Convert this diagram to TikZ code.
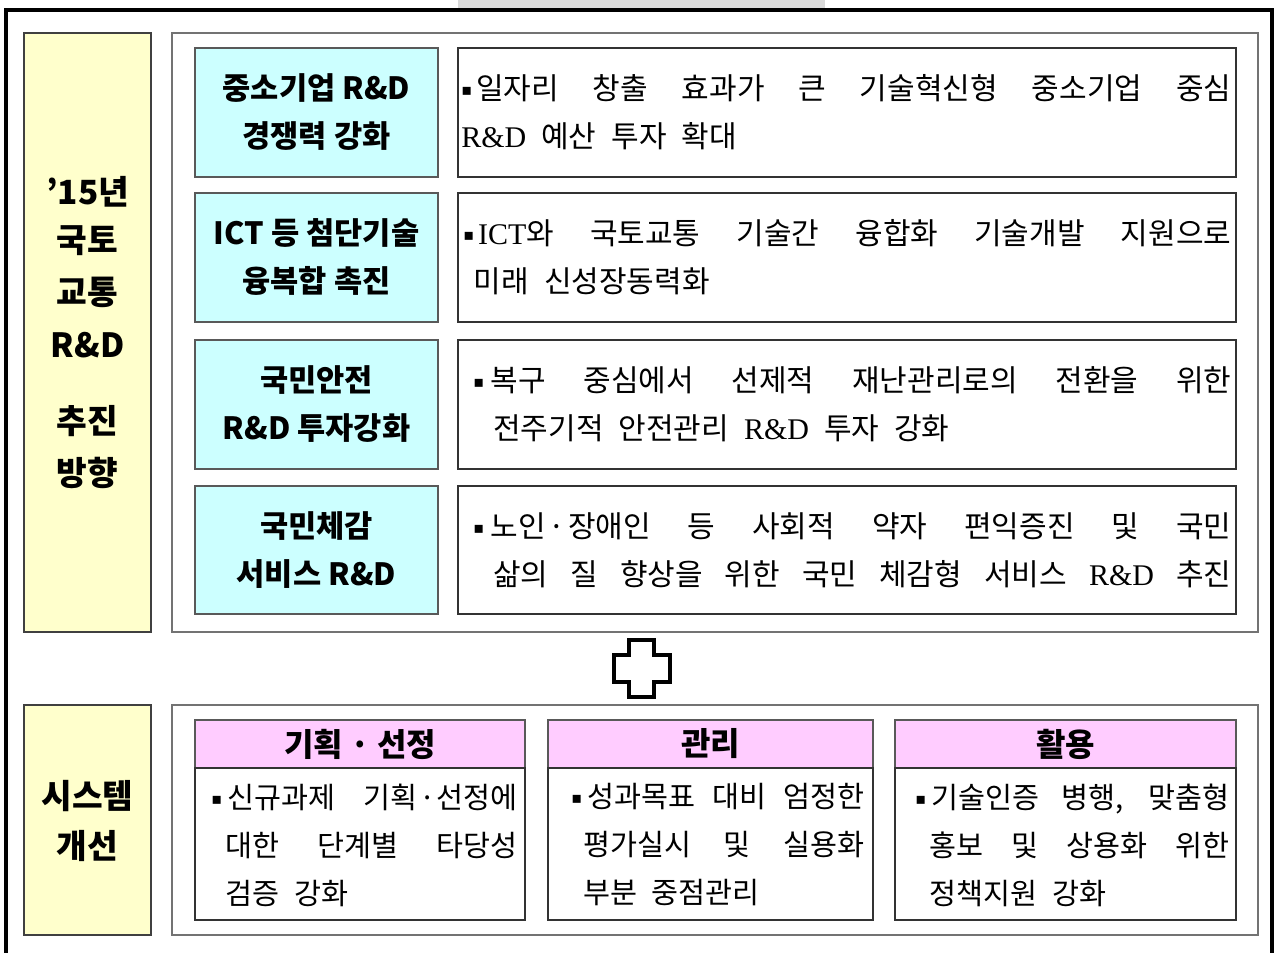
\documentclass[tikz,border=0pt]{standalone}
\usepackage{fontspec}
\newfontfamily\kr{Noto Sans CJK KR}
\newfontfamily\lser{Liberation Serif}
\newfontfamily\symf{DejaVu Sans}
\newcommand\lat[1]{{\lser #1}}
\newcommand\bul{\raisebox{3pt}{\symf\fontsize{12pt}{12pt}\selectfont ▪}}
\newcommand\bodysetup{\parindent=0pt\spaceskip=0.5em plus 3em minus 0.3em\relax}
\definecolor{yelc}{HTML}{FFFFCC}
\definecolor{cyac}{HTML}{CCFFFF}
\definecolor{pinc}{HTML}{FFCCFF}
\begin{document}
\begin{tikzpicture}[x=0.75pt,y=-0.75pt,
  yel/.style={draw=black!75, line width=1.1pt, fill=yelc},
  bigframe/.style={draw=black!55, line width=1.3pt, fill=white},
  cyanbox/.style={draw=black!65, line width=1.1pt, fill=cyac},
  descbox/.style={draw=black!80, line width=1pt, fill=white},
  pinkbox/.style={draw=black!65, line width=1.1pt, fill=pinc},
  head/.style={font={\kr\bfseries\fontsize{23pt}{36pt}\selectfont}, align=center, inner sep=0pt},
  phead/.style={font={\kr\bfseries\fontsize{24pt}{30pt}\selectfont}, inner sep=0pt},
  side/.style={font={\kr\bfseries\fontsize{25pt}{30pt}\selectfont}, inner sep=0pt},
  body/.style={font={\kr\fontsize{22.5pt}{36pt}\selectfont\bodysetup}, align=justify, inner sep=0pt, anchor=west},
  sbody/.style={font={\kr\fontsize{22pt}{36pt}\selectfont\bodysetup}, align=justify, inner sep=0pt, anchor=west},
  plusmark/.style={draw=black, line width=2.3pt, fill=white, line join=miter}
]
\useasboundingbox (0,0) rectangle (1276,952);
\clip (0,0) rectangle (1276,952);
% grey tab and outer frame
\fill[gray!30] (458,0) rectangle (825,9);
\draw[line width=3.5pt] (6,10) rectangle (1272,990);

% ---------- top section ----------
\path[yel] (24,33) rectangle (151,632);
\path[bigframe] (172,33) rectangle (1258,632);

\node[side] (y1) at (87.5,192) {’15년};
\node[side] (y2) at (87.5,241) {국토};
\node[side] (y3) at (87.5,292) {교통};
\node[side] (y4) at (87.5,345) {R\&D};
\node[side] (y5) at (87.5,421) {추진};
\node[side] (y6) at (87.5,473) {방향};

% row boxes
\path[cyanbox] (195,48) rectangle (438,177);
\path[descbox] (458,48) rectangle (1236,177);
\path[cyanbox] (195,193) rectangle (438,322);
\path[descbox] (458,193) rectangle (1236,322);
\path[cyanbox] (195,340) rectangle (438,469);
\path[descbox] (458,340) rectangle (1236,469);
\path[cyanbox] (195,486) rectangle (438,614);
\path[descbox] (458,486) rectangle (1236,614);

\node[head] (h1) at (316.5,112.5) {중소기업 R\&D\\경쟁력 강화};
\node[head] (h2) at (316.5,257.5) {ICT 등 첨단기술\\융복합 촉진};
\node[head] (h3) at (316.5,404.5) {국민안전\\R\&D 투자강화};
\node[head] (h4) at (316.5,550) {국민체감\\서비스 R\&D};

\node[body, text width=577.5pt] (d1) at (461,112.5)
  {\bul\hspace{3pt}일자리 창출 효과가 큰 기술혁신형 중소기업 중심\linebreak \lat{R\&D} 예산 투자 확대\par};
\node[body, text width=576pt] (d2) at (463,257.5)
  {\hangindent=8pt\hangafter=1 \bul\hspace{3pt}\lat{ICT}와 국토교통 기술간 융합화 기술개발 지원으로\linebreak 미래 신성장동력화\par};
\node[body, text width=568.5pt] (d3) at (473,404.5)
  {\hangindent=15pt\hangafter=1 \bul\hspace{5pt}복구 중심에서 선제적 재난관리로의 전환을 위한\linebreak 전주기적 안전관리 \lat{R\&D} 투자 강화\par};
\node[body, text width=568.5pt] (d4) at (473,550)
  {\hangindent=15pt\hangafter=1 \bul\hspace{5pt}노인\hspace{2pt}·\hspace{2pt}장애인 등 사회적 약자 편익증진 및 국민\linebreak 삶의 질 향상을 위한 국민 체감형 서비스 \lat{R\&D} 추진\parfillskip=0pt\par};

% plus sign
\draw[plusmark] (629,640) -- (654,640) -- (654,655) -- (670,655) -- (670,682) -- (654,682)
  -- (654,697) -- (629,697) -- (629,682) -- (614,682) -- (614,655) -- (629,655) -- cycle;
\coordinate (plus) at (642,668);

% ---------- bottom section ----------
\path[yel] (24,705) rectangle (151,935);
\path[bigframe] (172,705) rectangle (1258,935);
\node[side] (s1) at (87.5,796) {시스템};
\node[side] (s2) at (87.5,846) {개선};

\path[pinkbox] (195,720) rectangle (525,768);
\path[descbox] (195,768) rectangle (525,920);
\path[pinkbox] (548,720) rectangle (873,768);
\path[descbox] (548,768) rectangle (873,920);
\path[pinkbox] (895,720) rectangle (1236,768);
\path[descbox] (895,768) rectangle (1236,920);

\node[phead] (p1) at (360,744) {기획 · 선정};
\node[phead] (p2) at (710.5,744) {관리};
\node[phead] (p3) at (1065.5,744) {활용};

\node[sbody, text width=230pt] (b1) at (211,845)
  {\hangindent=11pt\hangafter=1 \bul\hspace{4pt}신규과제 기획\hspace{1pt}·\hspace{1pt}선정에\linebreak 대한 단계별 타당성\linebreak 검증 강화\par};
\node[sbody, text width=220pt] (b2) at (571,845)
  {\hangindent=9pt\hangafter=1 \bul\hspace{4pt}성과목표 대비 엄정한\linebreak 평가실시 및 실용화\linebreak 부분 중점관리\par};
\node[sbody, text width=235.5pt] (b3) at (915,845)
  {\hangindent=11pt\hangafter=1 \bul\hspace{4pt}기술인증 병행, 맞춤형\linebreak 홍보 및 상용화 위한\linebreak 정책지원 강화\par};
\end{tikzpicture}
\end{document}
